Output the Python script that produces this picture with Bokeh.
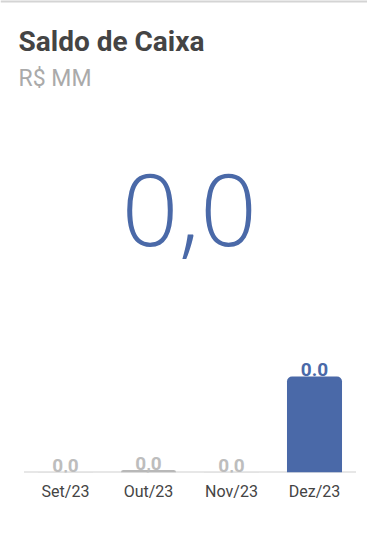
from bokeh.plotting import figure
from bokeh.models import Range1d, Label, ColumnDataSource, FixedTicker, Span
from bokeh.embed import file_html
from bokeh.resources import INLINE
from bokeh.core.properties import value

# ---- data ----
title_text = "Saldo de Caixa"
subtitle_text = "R$ MM"
kpi_text = "0,0"
months = ["Set/23", "Out/23", "Nov/23", "Dez/23"]
saldo = [0.0001, 0.001, 0.0001, 0.04]
bar_labels = ["0,0", "0,0", "0,0", "0.0"]

GRAY = "#c6c6c6"
BLUE = "#4a69a8"
bar_colors = [GRAY, "#b8b8b8", GRAY, BLUE]
label_colors = ["#bdbdbd", "#bdbdbd", "#bdbdbd", BLUE]

W, H = 367, 542
FRAME_H = 472
SLOT = 83.0           # px per category
FIRST_C = 65.0        # px of first category centre
idx = list(range(len(months)))
ymax = max(saldo) * FRAME_H / 96.0

src = ColumnDataSource(dict(x=idx, v=saldo, c=bar_colors, t=bar_labels, lc=label_colors))

p = figure(width=W, height=H,
           x_range=Range1d(-FIRST_C / SLOT, (W - FIRST_C) / SLOT),
           y_range=Range1d(0, ymax),
           output_backend="svg", toolbar_location=None,
           min_border_left=0, min_border_right=0, min_border_top=0, min_border_bottom=H - FRAME_H)
p.outline_line_color = None
p.background_fill_color = "white"
p.border_fill_color = "white"
p.xgrid.visible = False
p.ygrid.visible = False
p.yaxis.visible = False

# card top border
p.add_layout(Span(location=ymax, dimension="width", line_color="#d4d4d4", line_width=4))

# baseline (axis line) spanning the category slots
p.segment(x0=[-0.5], y0=[0], x1=[len(months) - 0.5], y1=[0], line_color="#d0d0d0", line_width=2)

p.vbar(x="x", top="v", width=0.663, source=src, fill_color="c", line_color=None,
       border_radius={"top_left": 5, "top_right": 5, "bottom_right": 0, "bottom_left": 0})
p.text(x="x", y="v", text="t", source=src, text_color="lc", text_align="center",
       text_baseline="alphabetic", y_offset=-7,
       text_font=value("Roboto"), text_font_size="19px", text_font_style="bold")

ax = p.xaxis[0]
ax.ticker = FixedTicker(ticks=idx)
ax.major_label_overrides = {i: m for i, m in zip(idx, months)}
ax.axis_line_color = None
ax.major_tick_line_color = None
ax.minor_tick_line_color = None
ax.major_label_text_font = "Roboto"
ax.major_label_text_font_size = "16px"
ax.major_label_text_color = "#444444"
ax.major_label_standoff = 3

# screen-unit labels (relative to frame bottom-left)
p.add_layout(Label(x=18, y=431, x_units="screen", y_units="screen", text=title_text,
                   text_font="Roboto", text_font_size="28px", text_font_style="bold",
                   text_color="#444444", text_baseline="alphabetic"))
p.add_layout(Label(x=18, y=394, x_units="screen", y_units="screen", text=subtitle_text,
                   text_font="Roboto", text_font_size="23px",
                   text_color="#aaaaaa", text_baseline="alphabetic"))
p.add_layout(Label(x=191, y=263, x_units="screen", y_units="screen", text=kpi_text,
                   text_font="Open Sans", text_font_size="100px",
                   text_color=BLUE, text_align="center", text_baseline="alphabetic"))

open("out.html", "w").write(file_html(p, INLINE))
